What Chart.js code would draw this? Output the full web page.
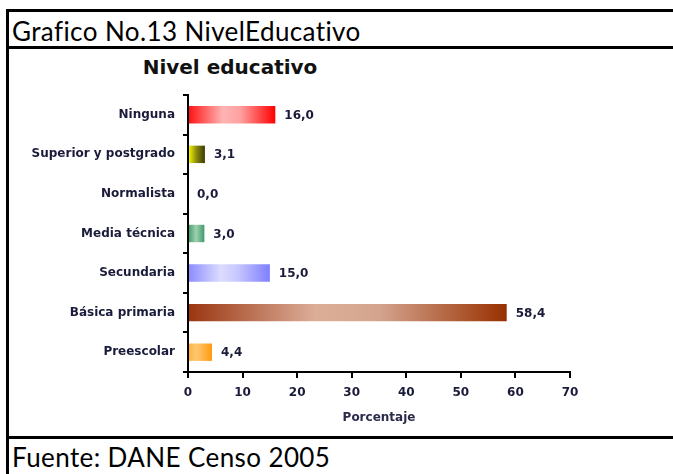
<!DOCTYPE html>
<html>
<head>
<meta charset="utf-8">
<script src="https://cdn.jsdelivr.net/npm/chart.js@4"></script>
<style>
  body { margin: 0; background: #fff; width: 673px; height: 474px; position: relative; overflow: hidden; }
  .line { position: absolute; background: #000; }
  .hdr { position: absolute; left: 12px; font-family: Lato, "Open Sans", sans-serif; font-size: 26px; letter-spacing: 0.4px; font-variant-ligatures: none; color: #000; white-space: nowrap; }
  #ctitle { position: absolute; left: 130px; top: 55px; width: 200px; text-align: center; font-family: "DejaVu Sans", Verdana, sans-serif; font-weight: bold; font-size: 20px; color: #111; }
  #wrap { position: absolute; left: 8px; top: 50px; width: 665px; height: 387px; }
</style>
</head>
<body>
<div class="line" style="left:6px;top:9px;width:667px;height:3px"></div>
<div class="line" style="left:6px;top:9px;width:3px;height:465px"></div>
<div class="line" style="left:6px;top:46px;width:667px;height:3px"></div>
<div class="line" style="left:6px;top:436px;width:667px;height:3px"></div>
<div class="hdr" style="top:15px">Grafico No.13 NivelEducativo</div>
<div class="hdr" style="top:441px">Fuente: DANE Censo 2005</div>
<div id="ctitle">Nivel educativo</div>
<div id="wrap"><canvas id="myChart" width="665" height="387"></canvas></div>
<script>
const categories = ['Ninguna', 'Superior y postgrado', 'Normalista', 'Media técnica', 'Secundaria', 'Básica primaria', 'Preescolar'];
const values = [16.0, 3.1, 0.0, 3.0, 15.0, 58.4, 4.4];
const xTicks = [0, 10, 20, 30, 40, 50, 60, 70];

// gradient stops for each bar (left -> right)
const barColors = [
    [['#ff1010', 0], ['#ffb4b4', 0.4], ['#ffa0a0', 0.6], ['#ff0000', 1]],
    [['#ffff00', 0], ['#8a8a10', 0.5], ['#3a3a00', 1]],
    [['#ffffff', 0], ['#ffffff', 1]],
    [['#3d9a66', 0], ['#9fd0b2', 0.5], ['#3d9a66', 1]],
    [['#8a8aff', 0], ['#dcdcff', 0.4], ['#c8c8ff', 0.6], ['#7e7eff', 1]],
    [['#9a3510', 0], ['#dcae98', 0.4], ['#d4a48e', 0.6], ['#983000', 1]],
    [['#ffb040', 0], ['#ffc770', 0.35], ['#ff9a10', 1]]
];

function barGradient(context) {
    const chart = context.chart;
    const { ctx, chartArea } = chart;
    if (!chartArea) return barColors[context.dataIndex][0][0];
    const x = chart.scales.x;
    const x0 = x.getPixelForValue(0);
    const x1 = Math.max(x.getPixelForValue(values[context.dataIndex]), x0 + 1);
    const g = ctx.createLinearGradient(x0, 0, x1, 0);
    barColors[context.dataIndex].forEach(s => g.addColorStop(s[1], s[0]));
    return g;
}

const valueLabels = {
    id: 'valueLabels',
    afterDatasetsDraw(chart) {
        const { ctx } = chart;
        const meta = chart.getDatasetMeta(0);
        ctx.save();
        ctx.font = 'bold 12px "DejaVu Sans", Verdana, sans-serif';
        ctx.fillStyle = '#1a1a3a';
        ctx.textBaseline = 'middle';
        meta.data.forEach((bar, i) => {
            ctx.fillText(values[i].toFixed(1).replace('.', ','), bar.x + 9, bar.y + 1);
        });
        ctx.restore();
    }
};

new Chart('myChart', {
    type: 'bar',
    data: {
        labels: categories,
        datasets: [{
            data: values,
            backgroundColor: barGradient,
            borderWidth: 0,
            categoryPercentage: 1,
            barPercentage: 0.44
        }]
    },
    plugins: [valueLabels],
    options: {
        indexAxis: 'y',
        responsive: false,
        animation: false,
        maintainAspectRatio: false,
        layout: { padding: { top: 45, right: 103, left: 0, bottom: 12 } },
        plugins: { legend: { display: false }, tooltip: { enabled: false } },
        scales: {
            x: {
                min: 0,
                max: 70,
                afterBuildTicks: axis => { axis.ticks = xTicks.map(v => ({ value: v })); },
                afterFit: axis => { axis.height = 53; },
                border: { color: '#000', width: 2 },
                grid: { drawOnChartArea: false, color: '#000', tickLength: 6, lineWidth: 2 },
                ticks: { color: '#1a1a3a', padding: 8, font: { family: '"DejaVu Sans", Verdana, sans-serif', size: 12, weight: 'bold' } },
                title: { display: true, text: 'Porcentaje', color: '#2a2a4a', padding: { top: 2, bottom: 0 }, font: { family: '"DejaVu Sans", Verdana, sans-serif', size: 12, weight: 'bold' } }
            },
            y: {
                offset: true,
                afterFit: axis => { axis.width = 180; },
                border: { color: '#000', width: 2 },
                grid: { drawOnChartArea: false, offset: true, color: '#000', tickLength: 5, lineWidth: 2 },
                ticks: { color: '#1a1a3a', padding: 8, font: { family: '"DejaVu Sans", Verdana, sans-serif', size: 12, weight: 'bold' } }
            }
        }
    }
});
</script>
</body>
</html>
